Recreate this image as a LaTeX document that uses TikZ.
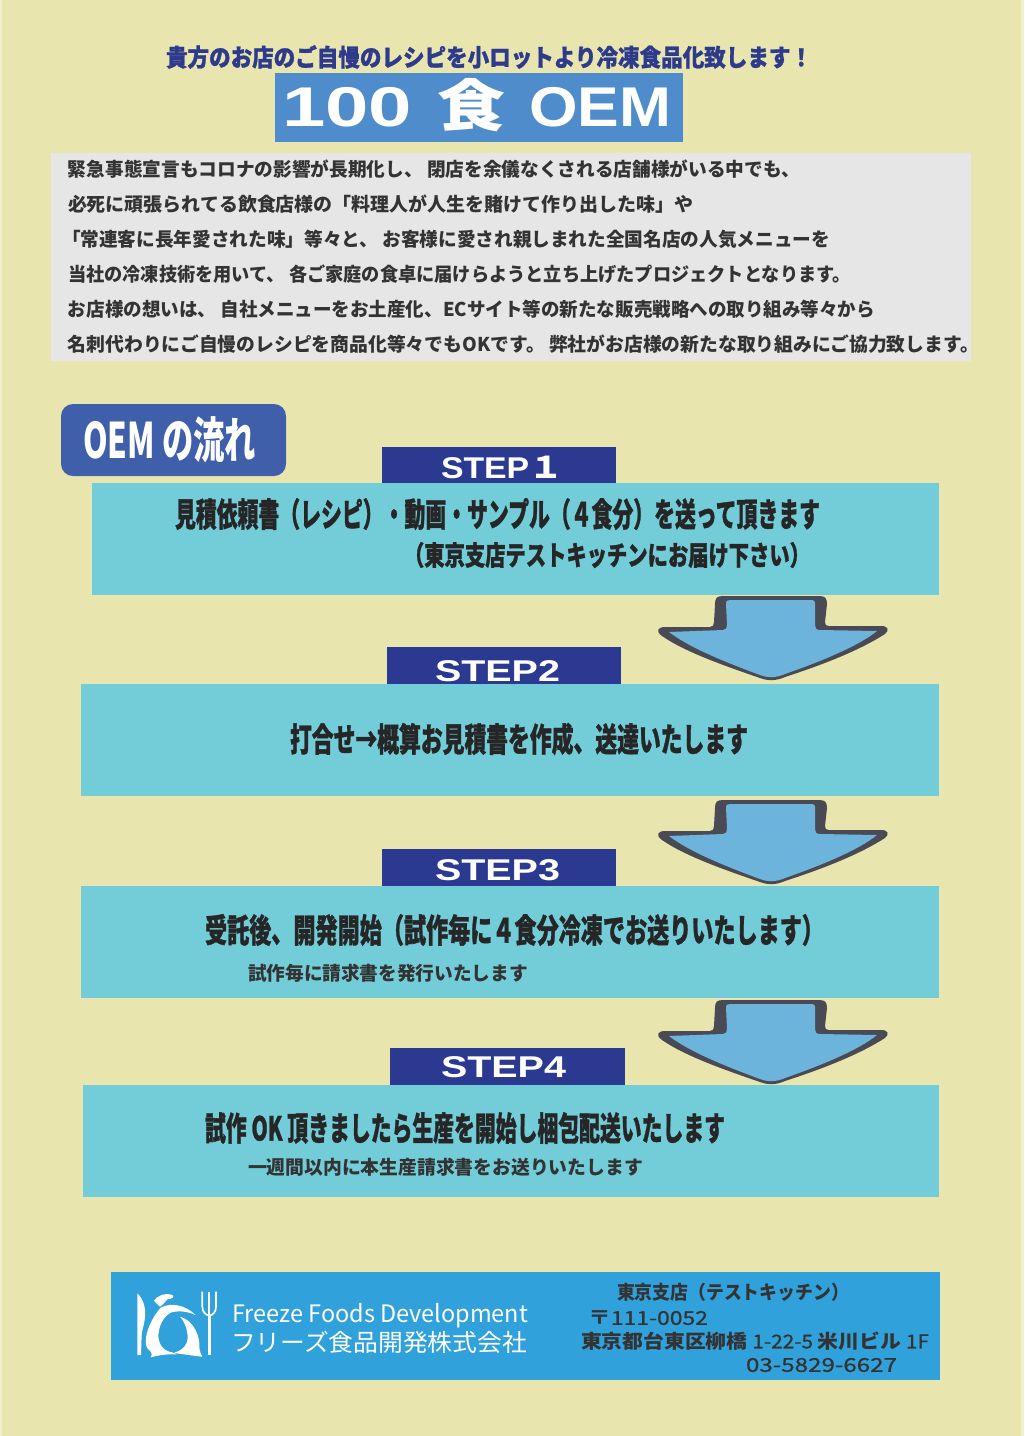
\documentclass[tikz,border=0pt]{standalone}
\usepackage{fontspec}
\usepackage{graphicx}
\setmainfont{Liberation Sans}
\newfontfamily\jp{Noto Sans CJK JP}
\newfontfamily\jph[FakeBold=1.2]{Noto Sans CJK JP}
\newfontfamily\jpm[FakeBold=0.7]{Noto Sans CJK JP}
\newcommand\fw[2]{\resizebox{#1}{\height}{#2}}
\definecolor{bg}{HTML}{E8E6AE}
\definecolor{titleblue}{HTML}{2E3A8C}
\definecolor{band}{HTML}{4F8CCB}
\definecolor{greybox}{HTML}{E6E6E6}
\definecolor{oembox}{HTML}{3F5FAB}
\definecolor{stepblue}{HTML}{2B3990}
\definecolor{teal}{HTML}{72CDD9}
\definecolor{footer}{HTML}{30A1DB}
\definecolor{arrowout}{HTML}{4A4A55}
\definecolor{arrowin}{HTML}{6CB4DC}
\definecolor{ink}{HTML}{333333}
\tikzset{
  txt/.style={inner sep=0pt,outer sep=0pt,anchor=west},
  para/.style={txt,text=ink,font=\jp\bfseries\fontsize{9.5}{11}\selectfont},
  head/.style={txt,text=black!85,font=\jph\bfseries\fontsize{16.5}{18}\selectfont},
  sub/.style={txt,text=black!85,font=\jph\bfseries\fontsize{13.5}{15}\selectfont},
  small/.style={txt,text=ink,font=\jp\bfseries\fontsize{9.5}{11}\selectfont},
  steplabel/.style={txt,text=white,font=\bfseries\fontsize{15}{16}\selectfont},
  addr/.style={txt,text=black!80,font=\jp\bfseries\fontsize{9.5}{11}\selectfont},
  foot/.style={txt,text=white,font=\jp\fontsize{12}{13}\selectfont},
}
\newcommand\downarrowshape[1]{%
  \begin{scope}[shift={(0,#1)}]
    \fill[arrowout] (715,604) .. controls (715,598) and (717,596) .. (723,596) -- (819,596)
      .. controls (825,596) and (827,598) .. (827,604) -- (825,622)
      .. controls (825,625) and (826,626) .. (829,626) -- (881,626)
      .. controls (888,626) and (890,630) .. (885,634)
      .. controls (860,650) and (825,664) .. (785,677)
      .. controls (776,681) and (768,681) .. (760,678)
      .. controls (725,666) and (685,652) .. (662,636)
      .. controls (655,631) and (658,627) .. (665,627) -- (710,627)
      .. controls (713,627) and (714,625) .. (714,622) -- cycle;
    \fill[arrowin] (726,603) .. controls (726,601) and (727,600) .. (730,600) -- (812,600)
      .. controls (814,600) and (815,601) .. (815,603) -- (815,625)
      .. controls (815,628) and (816,630) .. (820,630) -- (877,631)
      .. controls (860,645) and (825,660) .. (785,674)
      .. controls (776,678) and (768,678) .. (760,675)
      .. controls (725,662) and (690,648) .. (669,632) -- (723,630)
      .. controls (726,630) and (727,628) .. (727,625) -- cycle;
  \end{scope}}
\begin{document}
\begin{tikzpicture}[x=0.5pt,y=-0.5pt]
\useasboundingbox (0,0) rectangle (1024,1436);
\fill[bg!60!white] (0,0) rectangle (1024,1436);
\fill[bg] (2,0) rectangle (1021,1436);
% title
\node[txt,text=titleblue,font=\jph\bfseries\fontsize{12}{13}\selectfont] (title) at (166,57) {\fw{323pt}{貴方のお店のご自慢のレシピを小ロットより冷凍食品化致します！}};
\fill[band] (275,73) rectangle (683,142);
\node[txt,text=white,font=\bfseries\fontsize{28}{30}\selectfont] (oem100) at (282,105) {\fw{65pt}{100}\hspace{12.5pt}\fw{34pt}{\jp 食}\hspace{12pt}\fw{71pt}{OEM}};
% intro
\fill[greybox] (51,153) rectangle (971,361);
\node[para] (p1) at (68,169) {\fw{366pt}{緊急事態宣言もコロナの影響が長期化し、 閉店を余儀なくされる店舗様がいる中でも、}};
\node[para] (p2) at (68,204) {\fw{312.5pt}{必死に頑張られてる飲食店様の「料理人が人生を賭けて作り出した味」や}};
\node[para] (p3) at (62,239) {\fw{384pt}{「常連客に長年愛された味」等々と、 お客様に愛され親しまれた全国名店の人気メニューを}};
\node[para] (p4) at (68,274) {\fw{391.5pt}{当社の冷凍技術を用いて、 各ご家庭の食卓に届けらようと立ち上げたプロジェクトとなります。}};
\node[para] (p5) at (68,309) {\fw{403.5pt}{お店様の想いは、 自社メニューをお土産化、ECサイト等の新たな販売戦略への取り組み等々から}};
\node[para] (p6) at (68,344) {\fw{455.5pt}{名刺代わりにご自慢のレシピを商品化等々でもOKです。 弊社がお店様の新たな取り組みにご協力致します。}};
% OEM tag
\fill[oembox,rounded corners=6pt] (61,404) rectangle (286,476);
\node[txt,text=white,font=\jp\bfseries\fontsize{24.5}{26}\selectfont] (flow) at (83,440) {\fw{86.5pt}{OEM の流れ}};
% step 1
\fill[stepblue] (382,447) rectangle (616,484);
\fill[teal] (92,483) rectangle (939,595);
\node[steplabel] (s1) at (441,467) {\fw{61pt}{STEP{\jp\bfseries １}}};
\node[head] (t1a) at (175,514) {\fw{322.5pt}{見積依頼書（レシピ）・動画・サンプル（４食分）を送って頂きます}};
\node[sub] (t1b) at (404,555) {\fw{203pt}{（東京支店テストキッチンにお届け下さい）}};
% step 2
\fill[stepblue] (387,647) rectangle (621,685);
\fill[teal] (81,684) rectangle (939,796);
\node[steplabel] (s2) at (435,671) {\fw{62.5pt}{STEP2}};
\node[head] (t2) at (290,739) {\fw{229pt}{打合せ→概算お見積書を作成、送達いたします}};
% step 3
\fill[stepblue] (382,849) rectangle (616,887);
\fill[teal] (81,886) rectangle (939,998);
\node[steplabel] (s3) at (435,870) {\fw{62.5pt}{STEP3}};
\node[head] (t3a) at (205,930) {\fw{309.5pt}{受託後、開発開始（試作毎に４食分冷凍でお送りいたします）}};
\node[small] (t3b) at (248,973) {\fw{140pt}{試作毎に請求書を発行いたします}};
% step 4
\fill[stepblue] (390,1048) rectangle (625,1086);
\fill[teal] (83,1085) rectangle (939,1197);
\node[steplabel] (s4) at (441,1067) {\fw{62.5pt}{STEP4}};
\node[head] (t4a) at (205,1128) {\fw{260pt}{試作 OK 頂きましたら生産を開始し梱包配送いたします}};
\node[small] (t4b) at (248,1167) {\fw{197.5pt}{一週間以内に本生産請求書をお送りいたします}};
% arrows
\downarrowshape{0}
\downarrowshape{204}
\downarrowshape{404}
% footer
\fill[footer] (111,1272) rectangle (940,1380);
\node[foot] (f1) at (232,1316) {\fw{148pt}{Freeze Foods Development}};
\node[foot] (f2) at (231,1342) {\fw{148pt}{フリーズ食品開発株式会社}};
\node[addr] (a1) at (617,1292) {\fw{116pt}{東京支店（テストキッチン）}};
\node[addr] (a2) at (588,1318) {\fw{60pt}{〒{\jpm\mdseries 111-0052}}};
\node[addr] (a3) at (581,1341) {\fw{174pt}{東京都台東区柳橋 {\jpm\mdseries 1-22-5} 米川ビル {\jpm\mdseries 1F}}};
\node[addr,font=\jpm\fontsize{9.5}{11}\selectfont] (a4) at (746,1365) {\fw{75.5pt}{03-5829-6627}};
% logo
\begin{scope}[shift={(130,1285)},xscale=1/3,yscale=1/3]
  \fill[white] (22,25) .. controls (38,40) and (48,65) .. (45,95) .. controls (43,120) and (36,135) .. (35,150) -- (33,210) -- (22,210) -- cycle;
  \draw[white,line width=0.85pt] (217,20) -- (217,65) .. controls (217,82) and (228,90) .. (238,92) .. controls (248,90) and (258,82) .. (258,65) -- (258,20);
  \draw[white,line width=0.85pt] (238,20) -- (238,92);
  \draw[white,line width=1.35pt] (238,92) -- (238,210);
  \fill[white] (72,47) .. controls (80,33) and (105,22) .. (127,30) .. controls (134,35) and (128,42) .. (112,43) .. controls (106,50) and (100,58) .. (90,65) .. controls (82,58) and (76,52) .. (72,47) -- cycle;
  \fill[white] (92,68) .. controls (125,50) and (170,62) .. (196,90) .. controls (175,80) and (150,76) .. (125,82)
    .. controls (100,92) and (85,125) .. (85,155) .. controls (88,185) and (105,200) .. (132,203) -- (140,208)
    -- (125,208) .. controls (100,208) and (80,212) .. (62,217) .. controls (70,207) and (62,198) .. (52,190)
    .. controls (38,170) and (55,110) .. (92,68) -- cycle;
  \fill[white] (150,95) .. controls (185,105) and (205,140) .. (208,175) .. controls (207,190) and (210,205) .. (217,215)
    .. controls (190,213) and (160,207) .. (138,205) -- (135,202) .. controls (160,195) and (178,175) .. (172,145)
    .. controls (170,125) and (160,105) .. (150,95) -- cycle;
\end{scope}
\end{tikzpicture}
\end{document}
